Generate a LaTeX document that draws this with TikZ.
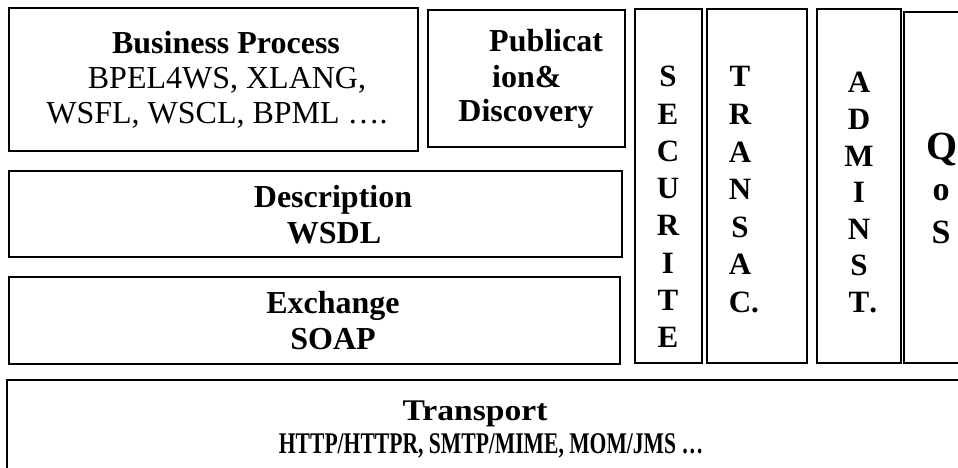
\documentclass[tikz,border=0pt]{standalone}
\usepackage{fontspec}
\setmainfont{Liberation Serif}
\begin{document}
\begin{tikzpicture}[x=1pt,y=-1pt,
  box/.style={draw=black,line width=1.6pt},
  bold/.style={font=\fontsize{32}{35}\selectfont\bfseries,inner sep=0,anchor=base},
  plain/.style={font=\fontsize{32}{35}\selectfont,inner sep=0,anchor=base},
  letter/.style={font=\fontsize{31}{31}\selectfont\bfseries,inner sep=0,anchor=base},
  narrow/.style={font=\fontsize{30}{30}\selectfont\bfseries,inner sep=0,anchor=base},
]
\useasboundingbox (0,0) rectangle (958,468);
\clip (0,0) rectangle (958,468);

% layer boxes
\draw[box] (9,8) rectangle (418,151);     % business process
\draw[box] (428,10) rectangle (625,147);  % publication & discovery
\draw[box] (9,171) rectangle (622,257);   % description
\draw[box] (9,277) rectangle (620,364);   % exchange
\draw[box] (7,380) rectangle (975,490);   % transport (runs off the page)

% vertical cross-cutting columns
\draw[box] (635,9) rectangle (702,363);
\draw[box] (707,9) rectangle (807,363);
\draw[box] (817,9) rectangle (901,363);
\draw[box] (904,12) rectangle (975,363);

% business process
\node[bold]  (bp-title) at (226,54)  {Business Process};
\node[plain] (bp-l1)    at (227,89)  {BPEL4WS, XLANG,};
\node[plain] (bp-l2)    at (217,124) {WSFL, WSCL, BPML ….};

% publication & discovery
\node[bold,anchor=base west] (pub-1) at (489,52)  {Publicat};
\node[bold,anchor=base west] (pub-2) at (492,88)  {ion\&};
\node[bold]                  (pub-3) at (526,122) {Discovery};

% description
\node[bold] (desc-1) at (333,207) {Description};
\node[bold] (desc-2) at (334,243) {WSDL};

% exchange
\node[bold] (exch-1) at (333,313) {Exchange};
\node[bold] (exch-2) at (333,349) {SOAP};

% transport
\node[narrow] (tr-1) at (475,420) {\scalebox{1.12}[1]{Transport}};
\node[narrow] (tr-2) at (491,453) {\scalebox{0.72}[1]{HTTP/HTTPR, SMTP/MIME, MOM/JMS …}};

% column captions, one letter per line
\foreach \ch [count=\i] in {S,E,C,U,R,I,T,E}
  \node[letter] (sec-\i) at (668,{77+37.2*(\i-1)+10}) {\ch};
\foreach \ch [count=\i] in {T,R,A,N,S,A,C\rlap{.}}
  \node[letter] (tra-\i) at (740,{77+37.5*(\i-1)+10}) {\ch};
\foreach \ch [count=\i] in {A,D,M,I,N,S,T\rlap{.}}
  \node[letter] (adm-\i) at (859,{83+36.5*(\i-1)+10}) {\ch};

\node[letter,font=\fontsize{40}{40}\selectfont\bfseries] (qos-1) at (942,160) {Q};
\node[letter,font=\fontsize{34}{34}\selectfont\bfseries] (qos-2) at (941,200) {o};
\node[letter,font=\fontsize{34}{34}\selectfont\bfseries] (qos-3) at (941,243) {S};
\end{tikzpicture}
\end{document}
